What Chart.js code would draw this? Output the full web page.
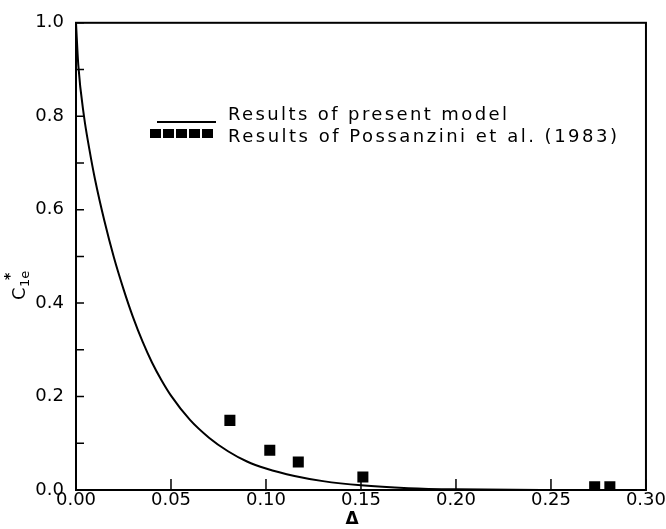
<!DOCTYPE html>
<html>
<head>
<meta charset="utf-8">
<script src="https://cdn.jsdelivr.net/npm/chart.js@4"></script>
<style>
  html, body { margin: 0; padding: 0; background: #fff; overflow: hidden; }
  #wrap { width: 666px; height: 529px; }
</style>
</head>
<body>
<div id="wrap"><canvas id="chart" width="666" height="529"></canvas></div>
<script>
// model curve
const deltaModel = [0, 0.0012, 0.0042, 0.007, 0.010, 0.015, 0.020, 0.025, 0.030, 0.035, 0.040, 0.045, 0.050, 0.060, 0.070, 0.080, 0.090, 0.100, 0.115, 0.130, 0.150, 0.175, 0.200, 0.250, 0.300];
const cModel     = [1.00, 0.91, 0.80, 0.73, 0.665, 0.575, 0.497, 0.430, 0.370, 0.318, 0.273, 0.235, 0.202, 0.150, 0.112, 0.083, 0.061, 0.046, 0.030, 0.019, 0.010, 0.004, 0.0015, 0.0002, 0];

// Possanzini et al. (1983)
const deltaExp = [0.081, 0.102, 0.117, 0.151, 0.273, 0.281];
const cExp     = [0.149, 0.085, 0.060, 0.028, 0.007, 0.007];

const legendLabels = ['Results of present model', 'Results of Possanzini et al. (1983)'];
const xTitle = '\u0394';

const FONT = '"DejaVu Sans", sans-serif';

// stretch legend text to the width it has in the original
function spacedText(ctx, text, x, y, targetWidth) {
    if ('letterSpacing' in ctx) {
        ctx.letterSpacing = '0px';
        const w = ctx.measureText(text).width;
        const sp = Math.max(0, (targetWidth - w) / (text.length - 1));
        ctx.letterSpacing = sp.toFixed(2) + 'px';
        ctx.fillText(text, x, y);
        ctx.letterSpacing = '0px';
    } else {
        ctx.fillText(text, x, y);
    }
}

const framePlugin = {
    id: 'frame',
    afterDraw(chart) {
        const { ctx, chartArea: a, scales } = chart;
        ctx.save();
        ctx.strokeStyle = '#000';
        ctx.lineWidth = 2;
        ctx.strokeRect(a.left, a.top, a.right - a.left, a.bottom - a.top);

        // inward tick marks
        ctx.lineWidth = 1.5;
        ctx.beginPath();
        scales.x.ticks.forEach(t => {
            const px = scales.x.getPixelForValue(t.value);
            ctx.moveTo(px, a.bottom);
            ctx.lineTo(px, a.bottom - 11);
        });
        scales.y.ticks.forEach(t => {
            const py = scales.y.getPixelForValue(t.value);
            ctx.moveTo(a.left, py);
            ctx.lineTo(a.left + 8, py);
        });
        ctx.stroke();

        // legend
        ctx.fillStyle = '#000';
        ctx.lineWidth = 2;
        ctx.beginPath();
        ctx.moveTo(157, 122);
        ctx.lineTo(216, 122);
        ctx.stroke();
        for (let i = 0; i < 5; i++) {
            ctx.fillRect(150 + i * 13, 129, 11, 9);
        }
        ctx.font = '18px ' + FONT;
        ctx.textBaseline = 'alphabetic';
        ctx.textAlign = 'left';
        spacedText(ctx, legendLabels[0], 228, 120, 279);
        spacedText(ctx, legendLabels[1], 228, 142, 389);

        // x title
        ctx.textAlign = 'center';
        ctx.font = 'bold 17px ' + FONT;
        ctx.fillText(xTitle, 352, 524);

        // y title C1e*
        ctx.translate(24, 290);
        ctx.rotate(-Math.PI / 2);
        ctx.textAlign = 'left';
        ctx.font = '18px ' + FONT;
        ctx.fillText('C', -10, 1);
        ctx.font = '13px ' + FONT;
        ctx.fillText('1e', 3, 5);
        ctx.font = 'bold 14px ' + FONT;
        ctx.fillText('*', 10, -10);
        ctx.restore();
    }
};

const ctx = document.getElementById('chart').getContext('2d');
new Chart(ctx, {
    type: 'scatter',
    data: {
        datasets: [
            {
                type: 'line',
                label: legendLabels[0],
                data: deltaModel.map((x, i) => ({ x, y: cModel[i] })),
                borderColor: '#000',
                borderWidth: 2,
                pointRadius: 0,
                fill: false,
                cubicInterpolationMode: 'monotone'
            },
            {
                label: legendLabels[1],
                data: deltaExp.map((x, i) => ({ x, y: cExp[i] })),
                pointStyle: 'rect',
                pointRadius: 7.8,
                backgroundColor: '#000',
                borderColor: '#000',
                borderWidth: 0
            }
        ]
    },
    options: {
        responsive: false,
        animation: false,
        layout: { padding: { top: 20, right: 18, left: 0, bottom: 0 } },
        plugins: { legend: { display: false }, tooltip: { enabled: false } },
        scales: {
            x: {
                type: 'linear', min: 0, max: 0.3,
                afterFit: s => { s.height = 39; },
                border: { display: false },
                grid: { display: false, drawTicks: false },
                ticks: {
                    stepSize: 0.05, padding: 0, color: '#000',
                    font: { family: FONT, size: 18 },
                    maxRotation: 0,
                    callback: v => Number(v).toFixed(2)
                }
            },
            y: {
                type: 'linear', min: 0, max: 1,
                afterFit: s => { s.width = 76; },
                border: { display: false },
                grid: { display: false, drawTicks: false },
                ticks: {
                    stepSize: 0.1, padding: 12, color: '#000',
                    font: { family: FONT, size: 18 },
                    callback: v => (Math.round(v * 10) % 2 === 0 ? Number(v).toFixed(1) : '')
                }
            }
        }
    },
    plugins: [framePlugin]
});
</script>
</body>
</html>
